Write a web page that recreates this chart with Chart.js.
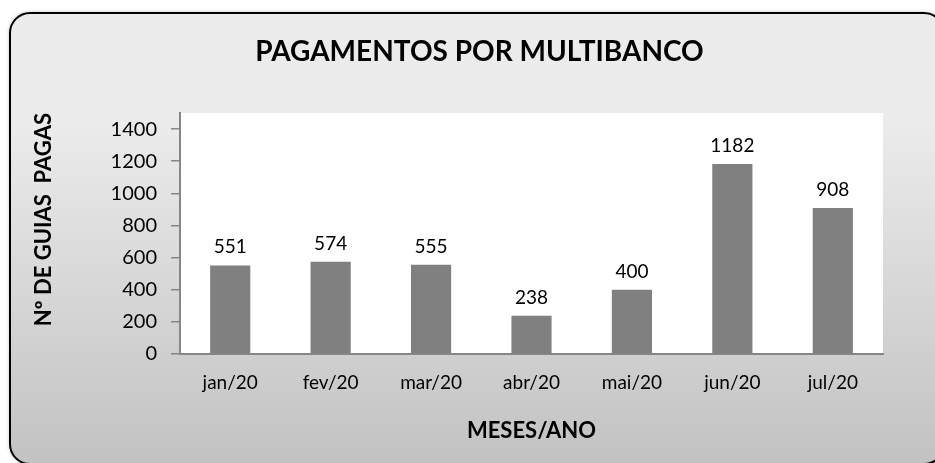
<!DOCTYPE html>
<html>
<head>
<meta charset="utf-8">
<script src="https://cdn.jsdelivr.net/npm/chart.js@4/dist/chart.umd.min.js"></script>
<style>
html, body { margin: 0; padding: 0; background: #fff; }
canvas { display: block; }
</style>
</head>
<body>
<canvas id="multibanco-chart" width="935" height="463"></canvas>
<script>
const meses = ['jan/20', 'fev/20', 'mar/20', 'abr/20', 'mai/20', 'jun/20', 'jul/20'];
const guiasPagas = [551, 574, 555, 238, 400, 1182, 908];
const yTicks = [0, 200, 400, 600, 800, 1000, 1200, 1400];

Chart.defaults.font.family = 'Lato, "Open Sans", sans-serif';
Chart.defaults.color = '#000';

// fundo cinzento com cantos redondos + area do grafico branca
const fundoPlugin = {
    id: 'fundo',
    beforeDraw(chart) {
        const ctx = chart.ctx;
        const a = chart.chartArea;
        ctx.save();
        const grad = ctx.createLinearGradient(0, 13, 0, 463);
        grad.addColorStop(0, '#ececec');
        grad.addColorStop(0.25, '#ebebeb');
        grad.addColorStop(1, '#c2c2c2');
        ctx.beginPath();
        ctx.roundRect(10, 13, 934, 451, 20);
        ctx.fillStyle = grad;
        ctx.shadowColor = 'rgba(0,0,0,0.35)';
        ctx.shadowBlur = 4;
        ctx.fill();
        ctx.shadowColor = 'transparent';
        ctx.lineWidth = 2;
        ctx.strokeStyle = '#000';
        ctx.stroke();
        ctx.fillStyle = '#fff';
        ctx.fillRect(a.left, a.top, a.right - a.left, a.bottom - a.top);
        ctx.restore();
    }
};

// valores por cima das barras
const valoresPlugin = {
    id: 'valores',
    afterDatasetsDraw(chart) {
        const ctx = chart.ctx;
        const meta = chart.getDatasetMeta(0);
        ctx.save();
        ctx.font = '19px Lato';
        ctx.fillStyle = '#000';
        ctx.textAlign = 'center';
        ctx.textBaseline = 'alphabetic';
        meta.data.forEach((bar, i) => {
            ctx.fillText(String(guiasPagas[i]), bar.x, bar.y - 12);
        });
        ctx.restore();
    }
};

const chartMultibanco = new Chart(document.getElementById('multibanco-chart'), {
    type: 'bar',
    data: {
        labels: meses,
        datasets: [{
            label: 'Guias pagas',
            data: guiasPagas,
            backgroundColor: '#808080',
            borderWidth: 0,
            barPercentage: 0.4,
            categoryPercentage: 1
        }]
    },
    options: {
        responsive: false,
        animation: false,
        layout: {
            padding: { left: 24, right: 0, top: 0, bottom: 0 }
        },
        plugins: {
            legend: { display: false },
            tooltip: { enabled: false },
            title: {
                display: true,
                text: 'PAGAMENTOS POR MULTIBANCO',
                font: { size: 28, weight: 'bold' },
                color: '#000',
                padding: { top: 35, bottom: 44.4 }
            }
        },
        scales: {
            x: {
                grid: { drawOnChartArea: false, drawTicks: false },
                border: { color: '#868686', width: 2 },
                ticks: { font: { size: 19 }, padding: 17, color: '#000' },
                title: {
                    display: true,
                    text: 'MESES/ANO',
                    font: { size: 22, weight: 'bold' },
                    color: '#000',
                    padding: { top: 0, bottom: 19 }
                },
                afterFit: (scale) => { scale.height = 109; }
            },
            y: {
                min: 0,
                max: 1500,
                grid: { drawOnChartArea: false, drawTicks: true, tickLength: 9, color: '#868686', lineWidth: 1.5 },
                border: { color: '#868686', width: 2 },
                ticks: {
                    font: { size: 20 },
                    padding: 14,
                    color: '#000',
                    callback: (v) => String(v)
                },
                afterBuildTicks: (scale) => {
                    scale.ticks = yTicks.map(v => ({ value: v }));
                },
                title: {
                    display: true,
                    text: 'Nº DE GUIAS  PAGAS',
                    align: 'end',
                    font: { size: 22, weight: 'bold' },
                    color: '#000',
                    padding: { top: 7, bottom: 0 }
                },
                afterFit: (scale) => { scale.width = 156; }
            },
            // eixo vazio so para deixar a margem da direita
            margem: {
                position: 'right',
                grid: { display: false },
                border: { display: false },
                ticks: { display: false },
                afterFit: (scale) => { scale.width = 52; }
            }
        }
    },
    plugins: [fundoPlugin, valoresPlugin]
});
</script>
</body>
</html>
